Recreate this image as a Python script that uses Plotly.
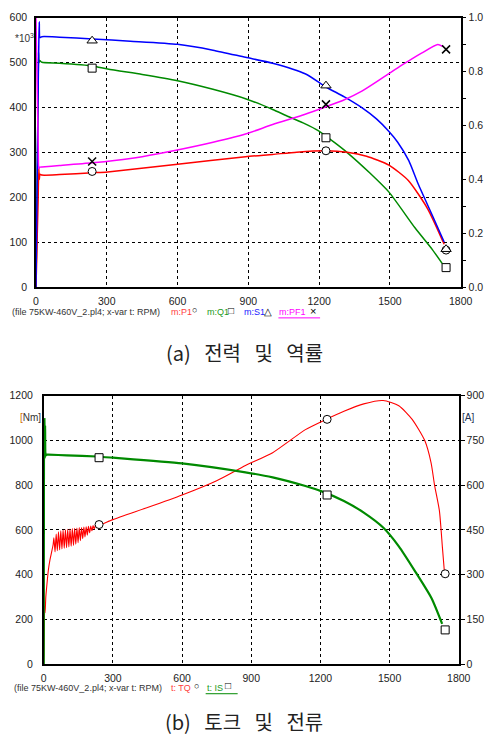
import plotly.graph_objects as go

W, H = 495, 744

# ---------------- (a) power & power factor ----------------
s1_rpm = [0, 3, 6, 9, 12, 14, 17, 25, 100, 240, 400, 600, 750, 888, 1003, 1143, 1229, 1307, 1381, 1443, 1496, 1533, 1580, 1620, 1680, 1730]
s1_val = [0, 140, 290, 430, 540, 591, 556, 558, 557, 553, 548, 541, 528, 512, 499, 475, 446, 424, 400, 375, 347, 323, 282, 230, 160, 101]

q1_rpm = [0, 3, 6, 9, 11, 13, 16, 25, 100, 240, 304, 450, 600, 750, 888, 1003, 1062, 1141, 1196, 1266, 1319, 1414, 1496, 1607, 1680, 1722]
q1_val = [0, 120, 280, 430, 523, 500, 505, 501, 499, 493, 486, 474, 460, 441, 420, 396, 382, 364, 349, 322, 300, 255, 212, 132, 84, 53]

p1_rpm = [0, 3, 6, 9, 12, 14, 17, 25, 100, 240, 304, 600, 888, 1003, 1105, 1229, 1319, 1401, 1496, 1578, 1660, 1730]
p1_val = [0, 60, 130, 190, 265, 240, 252, 250, 251, 255, 257, 274, 291, 296, 301, 304, 301, 292, 272, 238, 175, 96]

pf1_rpm = [0, 2, 4, 6, 8, 10, 12, 16, 25, 100, 240, 400, 518, 723, 888, 1003, 1141, 1229, 1307, 1381, 1470, 1552, 1634, 1703, 1723]
pf1_val = [1.0, 0.9, 0.8, 0.7, 0.6, 0.5, 0.44, 0.446, 0.447, 0.452, 0.462, 0.478, 0.496, 0.533, 0.569, 0.604, 0.642, 0.670, 0.696, 0.728, 0.778, 0.825, 0.869, 0.901, 0.894]

mk_a_rpm = [238, 1229, 1738]
p1_mk = [258, 304, 83]
q1_mk = [488, 333, 44]
s1_mk = [549, 449, 85]
pf1_mk = [0.467, 0.679, 0.883]

# ---------------- (b) torque & current ----------------
tq_rpm = [0, 1, 2, 3, 4, 6, 9, 13, 20, 27, 34, 41,
          44, 49, 54, 59, 64, 69, 74, 79, 84, 89, 94, 99, 104, 109, 114, 119, 124, 129, 134, 139,
          144, 149, 154, 159, 164, 169, 174, 179, 184, 189, 194, 199, 204, 209, 214, 219, 224, 229, 234, 239,
          300, 450, 600, 750, 875, 993, 1135, 1225, 1302, 1388, 1472, 1540, 1598, 1653, 1680, 1695, 1716, 1729, 1738]
tq_val = [0, 40, 110, 180, 259, 230, 300, 347, 420, 466, 500, 536,
          565, 502, 582, 507, 592, 511, 596, 515, 599, 518, 601, 521, 603, 524, 604, 527, 606, 531, 607, 536,
          608, 543, 610, 552, 611, 561, 613, 569, 614, 577, 616, 587, 617, 596, 619, 604, 620, 612, 622, 620,
          646, 700, 756, 820, 888, 945, 1048, 1094, 1130, 1163, 1178, 1155, 1094, 998, 900, 800, 686, 523, 410]

is_rpm = [0, 0.5, 1, 2, 3, 4, 5, 6, 7, 8, 10, 13, 20, 100, 231, 300, 600, 875, 993, 1135, 1203, 1302, 1388, 1472, 1540, 1610, 1682, 1728]
is_val = [0, 300, 673, 780, 821, 760, 690, 800, 710, 705, 700, 702, 702, 700, 696, 692, 673, 643, 626, 597, 580, 547, 508, 458, 395, 312, 221, 135]

mk_b_rpm = [240, 1229, 1741]
tq_mk = [624, 1094, 404]
is_mk = [692, 567, 115]

x_ticks = [0, 300, 600, 900, 1200, 1500, 1800]

RED, GREEN, BLUE, MAG = "#ff0000", "#008a00", "#0000ff", "#ff00ff"
FONT = "Liberation Sans, Arial, sans-serif"
TXT = "#222222"

fig = go.Figure()

def line(x, y, color, w, xa, ya, shape="spline"):
    fig.add_trace(go.Scatter(x=x, y=y, mode="lines",
                             line=dict(color=color, width=w, shape=shape, smoothing=0.6),
                             xaxis=xa, yaxis=ya, hoverinfo="skip", showlegend=False))

def marks(x, y, sym, xa, ya, size=8, lw=1):
    fig.add_trace(go.Scatter(x=x, y=y, mode="markers",
                             marker=dict(symbol=sym, size=size, color="white",
                                         line=dict(color="black", width=lw)),
                             xaxis=xa, yaxis=ya, hoverinfo="skip", showlegend=False, cliponaxis=False))

# (a)
line(pf1_rpm, pf1_val, MAG, 1.5, "x", "y2")
line(q1_rpm, q1_val, GREEN, 1.5, "x", "y")
line(p1_rpm, p1_val, RED, 1.5, "x", "y")
line(s1_rpm, s1_val, BLUE, 1.5, "x", "y")
marks(mk_a_rpm, p1_mk, "circle", "x", "y")
marks(mk_a_rpm, q1_mk, "square", "x", "y")
marks(mk_a_rpm, s1_mk, "triangle-up", "x", "y", size=9)
fig.add_trace(go.Scatter(x=mk_a_rpm, y=pf1_mk, mode="markers",
                         marker=dict(symbol="x-thin", size=8, line=dict(color="black", width=1.5)),
                         xaxis="x", yaxis="y2", hoverinfo="skip", showlegend=False, cliponaxis=False))

# (b)
line(is_rpm, is_val, GREEN, 2.2, "x2", "y4")
line(tq_rpm, tq_val, RED, 1.1, "x2", "y3")
marks(mk_b_rpm, tq_mk, "circle", "x2", "y3")
marks(mk_b_rpm, is_mk, "square", "x2", "y4")

def px_x(p):
    return p / W

def px_y(p):
    return 1 - p / H

tickfont = dict(family=FONT, size=10.5, color=TXT)
grid = dict(showgrid=True, gridcolor="black", gridwidth=1, griddash="3px,3px", zeroline=False,
            showline=True, linecolor="black", linewidth=1.5, ticks="", tickfont=tickfont)

fig.update_layout(
    width=W, height=H, margin=dict(l=0, r=0, t=0, b=0),
    paper_bgcolor="white", plot_bgcolor="white", showlegend=False, hovermode=False,
    xaxis=dict(domain=[px_x(34), px_x(472)], anchor="y", range=[0, 1800], tickvals=x_ticks,
               mirror=True, ticklabelstandoff=3, **grid),
    yaxis=dict(domain=[px_y(286), px_y(12)], anchor="x", range=[0, 600], dtick=100,
               mirror=True, ticklabelstandoff=5, **grid),
    yaxis2=dict(overlaying="y", side="right", anchor="x", range=[0, 1], tickvals=[0, 0.2, 0.4, 0.6, 0.8, 1.0],
                ticktext=["0.0", "0.2", "0.4", "0.6", "0.8", "1.0"], showgrid=False, zeroline=False,
                showline=True, linecolor="black", linewidth=1.5, ticks="outside", ticklen=4, tickcolor="black",
                minor=dict(tickvals=[0.1, 0.3, 0.5, 0.7, 0.9], ticks="outside", ticklen=4, tickcolor="black"),
                tickfont=tickfont),
    xaxis2=dict(domain=[px_x(42), px_x(470)], anchor="y3", range=[0, 1800], tickvals=x_ticks,
                mirror=True, ticklabelstandoff=3, **grid),
    yaxis3=dict(domain=[px_y(669), px_y(396)], anchor="x2", range=[0, 1200], dtick=200,
                mirror=True, ticklabelstandoff=7, **grid),
    yaxis4=dict(overlaying="y3", side="right", anchor="x2", range=[0, 900], dtick=150, showgrid=False,
                zeroline=False, showline=True, linecolor="black", linewidth=1.5, ticks="outside", ticklen=4,
                tickcolor="black", tickfont=tickfont),
)

ann = []

def text(x, y, t, color=TXT, size=9, anchor="left", family=FONT):
    ann.append(dict(x=px_x(x), y=px_y(y), xref="paper", yref="paper", text=t, showarrow=False,
                    xanchor=anchor, yanchor="middle", borderpad=0,
                    font=dict(family=family, size=size, color=color)))

# units
text(11, 33, "*10<sup>3</sup>", color="#333333", size=10)
text(16, 418, "<span style='color:#d07000'>[</span>Nm]", color="#333333", size=10)
text(472, 418, "[A]", color="#223355", size=10)

# legend lines (a)
yl = 311
text(8, yl, "(file 75KW-460V_2.pl4; x-var t: RPM)", color="#333333")
text(172, yl, "m:P1", color="#ff4040")
text(194, yl - 2, "○", color="black", size=9)
text(209, yl, "m:Q1", color="#1a9a1a")
text(231, yl - 2, "□", color="black", size=10)
text(247, yl, "m:S1", color="#2020ff")
text(268, yl - 1, "△", color="black", size=10)
text(284, yl, "m:PF1", color=MAG)
text(316, yl - 1, "×", color="black", size=11)

# legend lines (b)
yl2 = 693
text(10, yl2, "(file 75KW-460V_2.pl4; x-var t: RPM)", color="#333333")
text(172, yl2, "t: TQ", color="#ff4040")
text(196, yl2 - 2, "○", color="black", size=9)
text(209, yl2, "t: IS", color="#1a9a1a")
text(228, yl2 - 2, "□", color="black", size=10)

# captions
cap_font = "Noto Sans CJK KR, Noto Sans, sans-serif"
sp = "\u00a0\u00a0\u00a0"
text(249, 352, "(a)" + sp + "전력" + sp + "및" + sp + "역률", color="#222222", size=20, anchor="center", family=cap_font)
text(249, 727, "(b)" + sp + "토크" + sp + "및" + sp + "전류", color="#222222", size=20, anchor="center", family=cap_font)

fig.update_layout(annotations=ann)

shapes = [
    dict(type="line", xref="paper", yref="paper", x0=px_x(284), x1=px_x(327), y0=px_y(317), y1=px_y(317),
         line=dict(color=MAG, width=1)),
    dict(type="line", xref="paper", yref="paper", x0=px_x(209), x1=px_x(242), y0=px_y(699), y1=px_y(699),
         line=dict(color=GREEN, width=1)),
]
fig.update_layout(shapes=shapes)

fig.write_html("out.html", config={"displayModeBar": False})
